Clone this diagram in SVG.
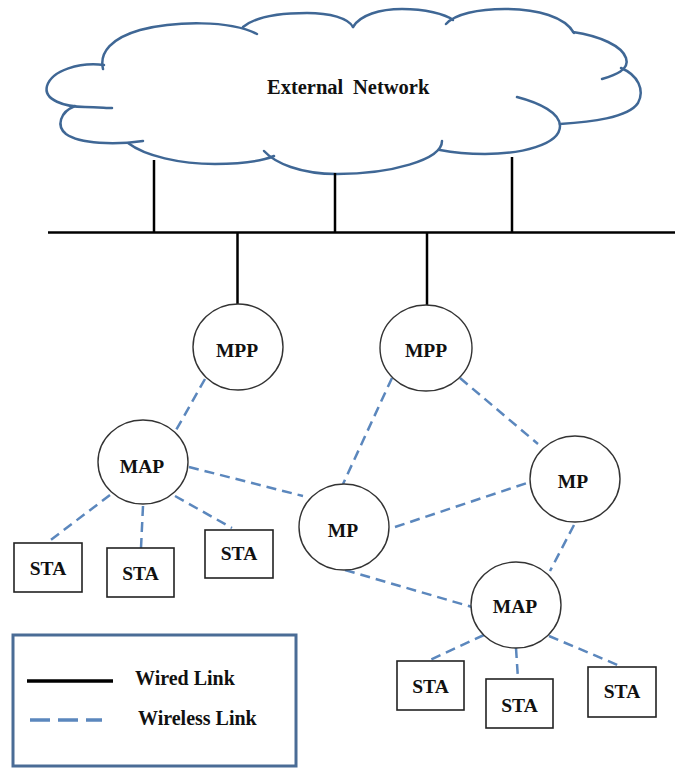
<svg xmlns="http://www.w3.org/2000/svg" width="675" height="769" viewBox="0 0 675 769">
  <style>
    .cloud { fill: none; stroke: #3F6795; stroke-width: 2.5; stroke-linecap: round; }
    .wired { stroke: #000; stroke-width: 2.5; fill: none; }
    .wireless { stroke: #5B87BD; stroke-width: 2.5; stroke-dasharray: 10 6; fill: none; }
    .node { fill: #fff; stroke: #333; stroke-width: 1.4; }
    .sta { fill: #fff; stroke: #222; stroke-width: 1.6; }
    .lbl { font-family: "Liberation Serif", "Times New Roman", serif; font-weight: bold; font-size: 19.5px; fill: #111; text-anchor: middle; }
    .title { font-family: "Liberation Serif", "Times New Roman", serif; font-weight: bold; font-size: 20.5px; fill: #111; text-anchor: start; }
    .legend-text { font-family: "Liberation Serif", "Times New Roman", serif; font-weight: bold; font-size: 20px; fill: #111; }
  </style>

  <rect width="675" height="769" fill="#fff"/>

  <!-- cloud: external network -->
  <g id="external-network">
    <path class="cloud" d="M103,69 C99,52 112,38 140,30 C175,21 230,20 257,34"/>
    <path class="cloud" d="M243,27 C255,17 280,13 307,13 C330,13 348,18 353,27"/>
    <path class="cloud" d="M353,27 C360,15 380,9 402,9 C425,9 445,14 453,20"/>
    <path class="cloud" d="M446,24 C455,14 478,9 505,9 C538,9 565,17 574,33"/>
    <path class="cloud" d="M573,32 C600,36 622,46 626,58 C630,70 615,75 602,79"/>
    <path class="cloud" d="M621,68 C638,75 645,90 638,103 C628,118 590,122 560,124"/>
    <path class="cloud" d="M517,97 C540,103 560,113 560,126 C560,145 520,154 485,154 C465,154 450,152 440,150"/>
    <path class="cloud" d="M442,141 C442,160 390,174 337,174 C300,174 275,163 264,151"/>
    <path class="cloud" d="M128,143 C145,156 180,164 215,164 C240,164 262,161 274,156"/>
    <path class="cloud" d="M75,106 C60,112 56,126 66,134 C80,144 115,145 143,141"/>
    <path class="cloud" d="M104,65 C80,62 52,70 47,86 C43,100 65,107 85,107 C98,107 106,108 112,108"/>
    <text class="title"><tspan x="267" y="94">External</tspan><tspan x="353" y="94">Network</tspan></text>
  </g>

  <!-- connectors -->
  <g id="links">
    <!-- wired backbone -->
    <line class="wired" x1="48" y1="232.5" x2="675" y2="232.5"/>
    <line class="wired" x1="154" y1="160" x2="154" y2="233"/>
    <line class="wired" x1="335" y1="173" x2="335" y2="233"/>
    <line class="wired" x1="512" y1="157" x2="512" y2="233"/>
    <line class="wired" x1="237.5" y1="232" x2="237.5" y2="304"/>
    <line class="wired" x1="427" y1="232" x2="427" y2="305"/>
    <!-- wireless links -->
    <line class="wireless" x1="205" y1="379" x2="175" y2="432"/>
    <line class="wireless" x1="189" y1="467" x2="303" y2="496"/>
    <line class="wireless" x1="110" y1="495" x2="48" y2="542"/>
    <line class="wireless" x1="143" y1="506" x2="141" y2="548"/>
    <line class="wireless" x1="175" y1="496" x2="232" y2="528"/>
    <line class="wireless" x1="392" y1="378" x2="343" y2="484"/>
    <line class="wireless" x1="460" y1="378" x2="538" y2="444"/>
    <line class="wireless" x1="395" y1="527" x2="530" y2="482"/>
    <line class="wireless" x1="574" y1="525" x2="550" y2="571"/>
    <line class="wireless" x1="345" y1="570" x2="472" y2="607"/>
    <line class="wireless" x1="484" y1="635" x2="430" y2="660"/>
    <line class="wireless" x1="516" y1="648" x2="518" y2="679"/>
    <line class="wireless" x1="549" y1="636" x2="620" y2="666"/>
  </g>

  <!-- mesh nodes -->
  <g id="mpp-left">
    <ellipse class="node" cx="238" cy="347" rx="45" ry="43"/>
    <text class="lbl" x="237" y="357">MPP</text>
  </g>
  <g id="mpp-right">
    <ellipse class="node" cx="426" cy="348" rx="46" ry="43"/>
    <text class="lbl" x="426" y="357">MPP</text>
  </g>
  <g id="map-left">
    <ellipse class="node" cx="143" cy="462" rx="45" ry="42"/>
    <text class="lbl" x="142" y="473">MAP</text>
  </g>
  <g id="mp-middle">
    <ellipse class="node" cx="344" cy="527" rx="45" ry="43"/>
    <text class="lbl" x="343" y="537">MP</text>
  </g>
  <g id="mp-right">
    <ellipse class="node" cx="575" cy="479" rx="45" ry="43"/>
    <text class="lbl" x="573" y="488">MP</text>
  </g>
  <g id="map-right">
    <ellipse class="node" cx="516" cy="605" rx="45" ry="43"/>
    <text class="lbl" x="515" y="613">MAP</text>
  </g>

  <!-- stations -->
  <g id="sta-1">
    <rect class="sta" x="14" y="543" width="68" height="49"/>
    <text class="lbl" x="48" y="575">STA</text>
  </g>
  <g id="sta-2">
    <rect class="sta" x="107" y="548" width="67" height="49"/>
    <text class="lbl" x="140.5" y="580">STA</text>
  </g>
  <g id="sta-3">
    <rect class="sta" x="205" y="530" width="68" height="48"/>
    <text class="lbl" x="239" y="560">STA</text>
  </g>
  <g id="sta-4">
    <rect class="sta" x="397" y="661" width="67" height="49"/>
    <text class="lbl" x="430.5" y="693">STA</text>
  </g>
  <g id="sta-5">
    <rect class="sta" x="486" y="679" width="67" height="49"/>
    <text class="lbl" x="519.5" y="712">STA</text>
  </g>
  <g id="sta-6">
    <rect class="sta" x="588" y="667" width="68" height="50"/>
    <text class="lbl" x="622" y="698">STA</text>
  </g>

  <!-- legend -->
  <g id="legend">
    <rect x="13" y="635" width="283" height="131" fill="#fff" stroke="#4A6C96" stroke-width="3"/>
    <line x1="27" y1="681" x2="113" y2="681" stroke="#000" stroke-width="3.5"/>
    <text class="legend-text" x="135" y="685">Wired Link</text>
    <line x1="30" y1="720" x2="102" y2="720" stroke="#5B87BD" stroke-width="3.5" stroke-dasharray="20 8"/>
    <text class="legend-text" x="138" y="725">Wireless Link</text>
  </g>
</svg>
